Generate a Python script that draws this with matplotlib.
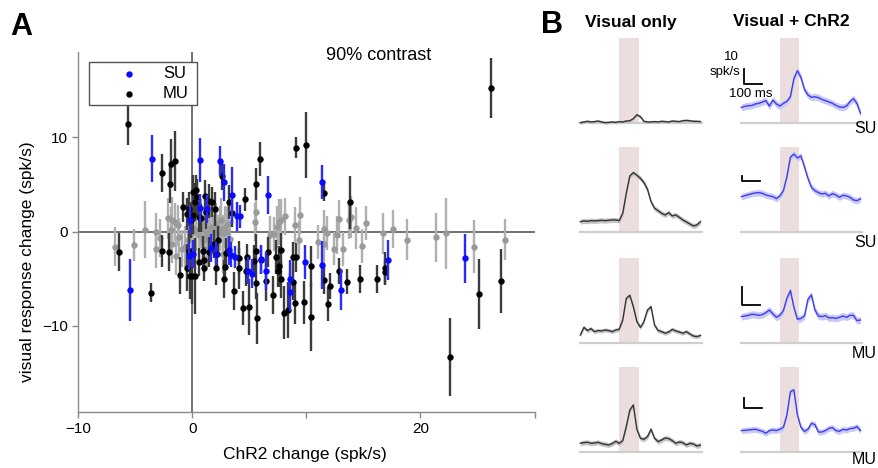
import numpy as np
import matplotlib
matplotlib.use("Agg")
import matplotlib.pyplot as plt
from matplotlib.patches import Rectangle
from matplotlib.lines import Line2D

plt.rcParams['font.family'] = ['Liberation Sans', 'DejaVu Sans']

W, H = 879, 468

# ---------------- Panel A data ----------------
# MU (black)
mu_x = [26.2, -5.65, -2.7, -2.0, -1.85, -1.5, 9.1, 10.0, 5.9, 5.6, 11.55, 13.8, 4.6, 2.6, 3.45, 3.25,
        22.6, 25.1, 27.1, 16.9, 16.9, 16.2, 14.7, 13.6, 12.9, 12.1, 11.9, 11.5, 10.4, 10.4, 9.8, 9.1,
        8.8, 8.8, 9.0, 8.4, 8.0, 7.8, 7.75, 7.6, 7.5, 7.3, 7.1, 6.6, 6.45, 6.0, 5.6, 5.6, 5.7, 5.4,
        5.0, 4.8, 4.45, 4.7, 4.05, 4.1, 3.65, 2.85, 2.8, 2.95, 2.1, 2.2, 1.9, 1.5, 1.0, 1.0, 0.9, 0.55,
        0.2, 0.0, -0.2, -0.3, -0.5, -1.1, -2.05, -2.7, -3.6, -6.4,
        -0.8, -0.3, 0.1, 0.35, 0.4, 0.55, 0.1, 0.25, 1.1, 1.45, 1.75, 2.0, 1.2, 0.8, -0.5, -0.1, 2.25]
mu_y = [15.2, 11.4, 6.2, 5.05, 7.2, 7.5, 8.9, 9.2, 7.7, 5.0, 4.1, 3.1, 3.4, 5.9, 2.0, 3.1,
        -13.3, -6.6, -5.2, -3.9, -4.3, -5.0, -5.05, -5.3, -4.2, -5.8, -7.7, -5.1, -9.1, -3.7, -7.5, -2.75,
        -2.75, -5.3, -7.6, -8.3, -8.6, -2.0, -5.05, -3.7, -4.2, -2.75, -6.75, -2.2, -5.2, -3.0, -2.05, -5.5, -9.2, -3.1,
        -8.0, -2.75, -8.1, -4.2, -2.85, -3.9, -6.3, -3.75, -5.0, -2.25, -3.9, -2.4, -1.3, -2.15, -3.9, -3.0, -2.05, -3.2,
        -4.7, -4.7, -4.7, -2.05, -3.85, -4.65, -2.2, -2.05, -6.5, -2.2,
        2.6, 2.4, 4.2, 4.4, 3.7, 1.55, 1.7, 3.1, 3.75, 3.25, 3.1, 2.4, 2.1, 1.4, 1.9, 1.2, -0.9]
mu_e = [3.2, 2.2, 2.0, 2.0, 2.6, 3.2, 1.1, 3.5, 1.8, 1.7, 0.9, 2.8, 1.2, 1.5, 1.5, 1.8,
        4.1, 3.7, 3.4, 1.7, 1.4, 1.5, 1.5, 1.3, 1.4, 1.4, 1.8, 1.5, 3.6, 2.2, 2.3, 1.5,
        1.6, 2.0, 2.2, 3.0, 2.8, 1.8, 2.0, 2.2, 1.7, 1.8, 2.0, 1.6, 2.2, 1.5, 1.8, 1.6, 2.7, 1.7,
        3.0, 1.4, 1.8, 1.6, 1.8, 2.2, 2.0, 1.5, 2.0, 1.6, 1.8, 1.5, 1.5, 1.6, 1.3, 1.4, 1.6, 1.5,
        4.0, 3.0, 2.5, 2.2, 2.5, 2.0, 2.0, 1.7, 1.0, 2.0,
        1.6, 1.8, 1.8, 1.6, 1.9, 1.6, 2.0, 2.0, 1.7, 1.8, 1.6, 1.8, 1.8, 1.5, 1.7, 1.9, 1.5]

# SU (blue)
su_x = [-3.55, -5.5, 0.7, 2.4, 2.75, 3.5, 6.65, 11.4, 0.7, 1.25, -0.2, 3.9, 4.15, -0.25, 0.1, 1.65,
        2.1, 3.2, 3.4, 3.7, 4.9, 5.2, 6.05, 6.45, 8.6, 8.6, 9.9, 11.4, 13.05, 17.15, 23.9]
su_y = [7.7, -6.2, 7.6, 7.5, 5.2, 3.85, 3.9, 5.2, 2.5, 2.4, 1.2, 1.6, 1.6, -2.6, -2.35, -1.75,
        -2.35, -2.0, -2.45, -2.7, -4.15, -4.45, -2.95, -4.15, -5.0, -6.4, -3.25, -3.55, -6.15, -3.0, -2.85]
su_e = [2.5, 3.3, 2.3, 1.6, 2.0, 3.0, 2.0, 1.8, 1.5, 1.5, 1.5, 1.5, 1.2, 1.5, 1.5, 1.5,
        1.2, 1.5, 1.3, 1.2, 1.4, 1.5, 1.5, 2.0, 2.0, 2.0, 1.8, 2.5, 2.2, 2.1, 2.6]

# non-significant (gray)
ns_x = [-6.8, -5.1, -4.15, -3.2, -3.2, -2.85, -2.15, -1.8, -1.55, -1.9, -1.8, -1.45, -1.3, -1.2, -0.95,
        -0.65, -0.35, 0.0, 0.1, 0.35, 0.55, 0.75, 0.9, 1.0, 1.2, 1.35, 1.5, 1.65, 1.8, 1.95, 2.1, 2.25,
        2.4, 2.55, 2.7, 2.85, 3.0, 3.15, 3.3, 1.25, 2.7, 5.55, 5.45, 7.2, 7.45, 7.6, 7.8, 8.1, 9.0, 9.35,
        9.45, 11.05, 11.55, 11.5, 11.8, 12.4, 12.65, 12.85, 13.25, 13.7, 13.9, 14.35, 14.85, 15.2, 16.7,
        17.55, 18.8, 21.4, 22.2, 24.7, 27.4, 6.8]
ns_y = [-1.6, -1.4, 0.2, -1.9, 0.0, -0.65, 1.4, 1.2, 1.0, 0.15, -1.3, -2.6, 0.65, -0.55, -1.8,
        -1.6, -0.9, -0.2, 0.4, 0.15, -0.4, 0.85, -0.9, 0.15, -0.4, -0.75, 0.0, 0.5, -0.2, 0.15, 0.85, -0.2,
        0.3, 1.2, -0.2, 0.5, 0.0, 0.85, -0.75, -1.8, -2.35, 2.1, 1.0, -0.3, 0.5, 1.0, 1.2, 1.6, 0.65, -0.85,
        1.7, -1.15, -1.3, 0.3, -0.15, -1.8, -0.4, 1.3, -1.9, 1.2, 1.55, 0.4, -1.5, 0.9, -0.2,
        0.3, -0.85, -0.6, -0.2, -1.6, -0.85, -0.4]
ns_e = [2.1, 1.7, 3.0, 2.0, 2.0, 2.0, 2.2, 2.5, 2.0, 2.4, 2.0, 2.0, 2.2, 2.0, 2.0,
        2.2, 2.4, 2.6, 2.4, 2.2, 2.5, 2.6, 2.0, 2.4, 2.0, 2.2, 2.6, 2.4, 2.0, 2.2, 2.2, 2.0,
        2.4, 2.4, 2.0, 2.2, 2.6, 2.2, 2.0, 2.0, 2.0, 2.0, 2.0, 1.8, 2.2, 2.4, 2.2, 2.0, 2.0, 2.0,
        2.0, 1.8, 2.2, 2.0, 1.8, 1.8, 2.0, 2.0, 1.8, 2.0, 2.2, 2.2, 1.8, 1.8, 2.2,
        2.0, 2.2, 2.6, 3.8, 2.8, 2.2, 2.0]

xticks = [-10, 0, 10, 20, 30]
xticklabels = ['\u221210', '0', '', '20', '']
yticks = [-10, 0, 10]
yticklabels = ['\u221210', '0', '10']

# ---------------- Panel B data ----------------
t_ms = np.arange(-220, 461, 20)
stim = (0, 110)
rows = ['SU', 'SU', 'MU', 'MU']
px_per_10 = [15.0, 5.0, 17.7, 10.0]   # scale-bar length in pixels per 10 spk/s

vis_only = [
    [0.0, 0.5, 0.9, 0.5, 0.7, 1.1, 0.5, 0.0, 0.2, 0.5, 0.2, 0.7, 0.5, 1.1, 1.3, 2.7, 5.3, 4.0, 0.9, 0.5,
     0.5, 0.7, 0.5, 0.9, 0.7, 0.5, 1.1, 0.9, 0.7, 1.3, 1.5, 1.3, 0.9, 0.9, 0.7],
    [21.3, 22.7, 22.0, 23.3, 22.7, 23.3, 24.0, 23.3, 24.0, 24.7, 24.7, 23.3, 38.0, 78.0, 112.7, 119.3, 114.0,
     108.0, 99.3, 86.0, 61.3, 48.0, 43.3, 38.0, 34.7, 39.3, 32.7, 34.7, 30.0, 24.7, 20.7, 16.7, 12.7, 14.7, 21.3],
    [4.7, 9.0, 7.2, 8.3, 6.6, 7.2, 7.0, 7.5, 7.2, 6.6, 7.5, 7.9, 13.2, 25.4, 27.1, 20.7, 12.3, 9.0, 12.3,
     18.8, 20.7, 10.3, 7.2, 6.6, 5.7, 6.4, 7.9, 7.0, 6.4, 5.7, 6.6, 5.3, 4.1, 3.8, 4.4],
    [9.0, 9.7, 10.0, 9.0, 9.3, 10.0, 8.7, 8.0, 7.3, 8.7, 11.0, 9.0, 11.7, 25.7, 42.3, 47.3, 23.0, 14.0, 13.0,
     15.7, 23.0, 14.0, 10.7, 12.3, 14.3, 13.7, 11.7, 9.0, 10.3, 9.7, 7.3, 9.0, 8.3, 6.3, 7.3],
]
vis_chr2 = [
    [10.2, 10.9, 11.3, 11.5, 12.5, 12.9, 13.8, 14.7, 11.1, 15.1, 12.5, 11.1, 12.9, 14.2, 17.3, 29.5, 34.7,
     30.2, 22.2, 18.5, 16.9, 17.3, 16.7, 15.5, 14.7, 13.8, 12.9, 11.5, 10.5, 10.2, 11.1, 14.0, 16.0, 12.9, 6.2],
    [71.3, 73.3, 75.3, 77.3, 78.7, 79.3, 78.0, 74.7, 72.7, 71.3, 67.3, 72.7, 83.3, 111.3, 150.0, 156.7, 148.7,
     152.7, 131.3, 108.0, 90.0, 83.3, 79.3, 76.7, 78.0, 72.7, 77.3, 74.7, 70.0, 74.0, 72.7, 70.0, 64.7, 63.3, 66.7],
    [15.1, 15.4, 15.8, 16.4, 16.2, 15.8, 16.2, 17.3, 18.8, 16.6, 14.7, 15.8, 18.5, 25.4, 29.8, 20.3, 13.6,
     14.0, 15.4, 24.9, 27.3, 18.8, 15.4, 15.1, 15.6, 14.3, 14.5, 14.0, 14.7, 15.4, 14.7, 15.8, 15.8, 12.8, 13.2],
    [21.7, 22.0, 22.3, 22.7, 23.0, 22.0, 21.0, 19.0, 21.7, 22.3, 21.7, 23.0, 25.0, 37.3, 60.7, 62.3, 37.3,
     25.0, 21.0, 23.0, 29.0, 27.7, 20.3, 20.3, 21.7, 24.0, 24.7, 21.7, 21.0, 23.0, 22.3, 23.7, 24.0, 25.7, 21.7],
]
sem_vis = [1.0, 5.0, 1.2, 2.5]
sem_chr2 = [2.3, 6.5, 2.0, 3.0]

# ---------------- figure ----------------
fig = plt.figure(figsize=(W / 100, H / 100), dpi=100)


def fx(px):
    return px / W


def fy(py):
    return 1 - py / H


# Panel A axes
axA = fig.add_axes([fx(78.3), fy(411.7), fx(534.5) - fx(78.3), fy(52.3) - fy(411.7)])
axA.set_xlim(-10, 30)
axA.set_ylim(-19.1, 19.0)
for s in ['top', 'right']:
    axA.spines[s].set_visible(False)
for s in ['left', 'bottom']:
    axA.spines[s].set_color('#8a8a8a')
    axA.spines[s].set_linewidth(1.0)
axA.tick_params(colors='#8a8a8a', labelcolor='black', length=4, width=1.0, labelsize=11)
axA.set_xticks(xticks)
axA.set_xticklabels(xticklabels)
axA.set_yticks(yticks)
axA.set_yticklabels(yticklabels)

axA.axhline(0, color='#4a4a4a', lw=1.1, zorder=1)
axA.axvline(0, color='#4a4a4a', lw=1.1, zorder=1)

axA.errorbar(ns_x, ns_y, yerr=ns_e, fmt='o', ms=4.6, color='#9a9a9a', ecolor='#b0b0b0',
             elinewidth=1.7, capsize=0, mec='none', zorder=2)
axA.errorbar(mu_x, mu_y, yerr=mu_e, fmt='o', ms=4.6, color='black', ecolor='#3c3c3c',
             elinewidth=1.7, capsize=0, mec='none', zorder=3)
axA.errorbar(su_x, su_y, yerr=su_e, fmt='o', ms=4.6, color='#0a0aff', ecolor='#2a2aff',
             elinewidth=1.7, capsize=0, mec='none', zorder=4)

fig.text(fx(305), fy(455), 'ChR2 change (spk/s)', ha='center', va='center', fontsize=12.5)
fig.text(fx(28), fy(262), 'visual response change (spk/s)', ha='center', va='center',
         fontsize=12.5, rotation=90)
fig.text(fx(379), fy(56), '90% contrast', ha='center', va='center', fontsize=13)

# legend box
fig.add_artist(Rectangle((fx(88.6), fy(105.3)), fx(196.6) - fx(88.6), fy(62.3) - fy(105.3),
                         transform=fig.transFigure, facecolor='white', edgecolor='#555555',
                         lw=1.0, zorder=5))
fig.add_artist(Line2D([fx(128.6)], [fy(74)], marker='o', ms=4.6, color='#0a0aff', mec='none',
                      ls='none', transform=fig.transFigure, zorder=6))
fig.add_artist(Line2D([fx(128.6)], [fy(94)], marker='o', ms=4.6, color='black', mec='none',
                      ls='none', transform=fig.transFigure, zorder=6))
fig.text(fx(163), fy(74), 'SU', ha='left', va='center', fontsize=12, zorder=7)
fig.text(fx(163), fy(94), 'MU', ha='left', va='center', fontsize=12, zorder=7)

# panel letters
fig.text(fx(10), fy(27), 'A', ha='left', va='center', fontsize=22, fontweight='bold')
fig.text(fx(541), fy(25), 'B', ha='left', va='center', fontsize=22, fontweight='bold')
fig.text(fx(631), fy(22), 'Visual only', ha='center', va='center', fontsize=12.5, fontweight='bold')
fig.text(fx(791), fy(22), 'Visual + ChR2', ha='center', va='center', fontsize=12.5, fontweight='bold')

# Panel B axes
row_px = [(37.7, 122.7), (146.7, 232.3), (258.3, 343.3), (366.7, 452.3)]
col_px = [(580, 701.7), (741, 861.7)]
label_y = [128.3, 242.7, 353.3, 460.0]
for r in range(4):
    top, bot = row_px[r]
    ymax = (bot - top) / px_per_10[r] * 10
    for c in range(2):
        x0, x1 = col_px[c]
        ax = fig.add_axes([fx(x0), fy(bot), fx(x1) - fx(x0), fy(top) - fy(bot)])
        ax.set_xlim(-222, 467)
        ax.set_ylim(0, ymax)
        ax.axis('off')
        ax.axvspan(stim[0], stim[1], color='#eddede', lw=0, zorder=0)
        ax.axhline(0, color='#cfcfcf', lw=1.6, zorder=1, clip_on=False)
        if c == 0:
            y = np.array(vis_only[r])
            ax.fill_between(t_ms, y - sem_vis[r], y + sem_vis[r], color='#c4c4c4', lw=0, zorder=2,
                            clip_on=False)
            ax.plot(t_ms, y, color='#333333', lw=1.0, zorder=3, clip_on=False)
        else:
            y = np.array(vis_chr2[r])
            ax.fill_between(t_ms, y - sem_chr2[r], y + sem_chr2[r], color='#c9c9f6', lw=0, zorder=2,
                            clip_on=False)
            ax.plot(t_ms, y, color='#3c3cf0', lw=1.0, zorder=3, clip_on=False)
    fig.text(fx(877), fy(label_y[r]), rows[r], ha='right', va='center', fontsize=11.5)

# scale bars (10 spk/s, 100 ms) drawn in figure pixels per row
bars = [(744, 84.0), (742, 181.0), (742, 304.7), (744, 408.0)]
for r in range(4):
    bx, by = bars[r]
    h = px_per_10[r]
    fig.add_artist(Line2D([fx(bx), fx(bx), fx(bx + 17.7)], [fy(by - h), fy(by), fy(by)],
                          color='black', lw=1.3, transform=fig.transFigure))
fig.text(fx(731), fy(57), '10', ha='center', va='center', fontsize=9.5)
fig.text(fx(740), fy(72.5), 'spk/s', ha='right', va='center', fontsize=9.5)
fig.text(fx(751), fy(94.3), '100 ms', ha='center', va='center', fontsize=9.5)

fig.savefig('out.png', dpi=100)
